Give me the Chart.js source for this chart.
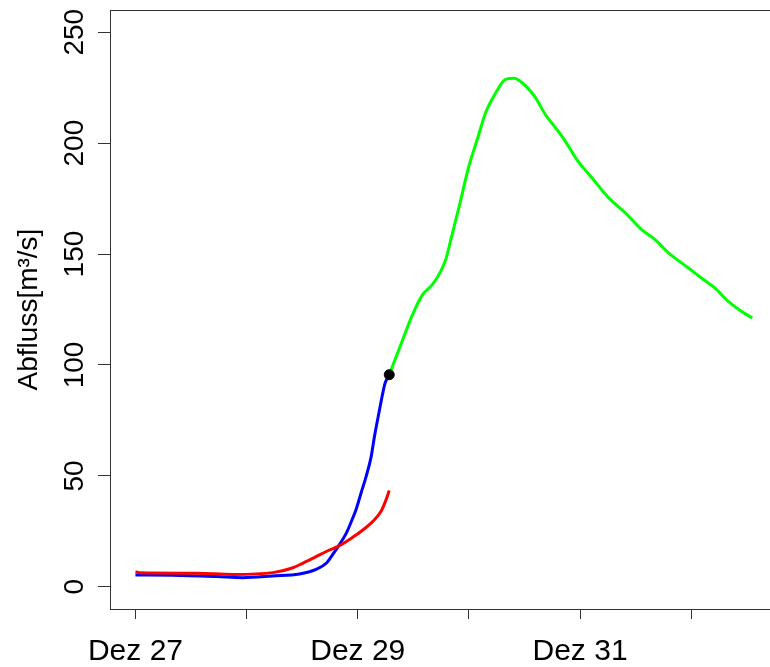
<!DOCTYPE html>
<html>
<head>
<meta charset="utf-8">
<script src="https://cdn.jsdelivr.net/npm/chart.js@4/dist/chart.umd.min.js"></script>
<style>
    html, body { margin: 0; padding: 0; background: #fff; overflow: hidden; }
    #wrap { width: 800px; height: 667px; }
</style>
</head>
<body>
<div id="wrap"><canvas id="flowChart"></canvas></div>
<script>
// --- DATA (hours since Dez 27 00:00, discharge in m³/s) ---
const xTickHours = [0, 24, 48, 72, 96, 120];
const xTickLabels = ['Dez 27', '', 'Dez 29', '', 'Dez 31', ''];
const yTicks = [0, 50, 100, 150, 200, 250];
const yTitle = 'Abfluss[m³/s]';

// observed (blue)
const blueHours = [0, 8, 17.5, 23.2, 29.6, 35.4, 39.0, 41.2, 42.5, 44.0, 45.5, 46.9, 47.6, 48.7, 49.8, 50.9, 51.6, 52.7, 53.4, 53.9, 54.8];
const blueFlow  = [5.3, 5.2, 4.6, 4.1, 4.9, 5.8, 7.9, 10.6, 14.3, 18.9, 24.1, 30.9, 34.6, 42.2, 49.7, 58.7, 67.7, 79.8, 87.3, 91.8, 95.6];

// simulated (red)
const redHours = [0, 1, 13.2, 21.1, 29.7, 34.0, 36.1, 39.0, 41.9, 44.0, 46.9, 49.1, 51.2, 53.0, 54.1, 54.8];
const redFlow  = [6.8, 6.3, 6.1, 5.6, 6.4, 8.6, 10.6, 13.6, 16.6, 18.5, 22.3, 25.6, 29.4, 33.9, 39.2, 43.4];

// forecast (green)
const greenHours = [54.8, 57.7, 59.8, 62.0, 64.1, 65.9, 67.0, 68.1, 69.9, 72.0, 73.8, 75.6, 77.8, 79.9, 81.7, 83.5, 86.4, 88.5, 90.7, 92.8, 95.3, 98.6, 102.2, 105.8, 109.3, 112.2, 115.1, 119.4, 122.2, 125.1, 128.0, 130.9, 133.2];
const greenFlow  = [95.6, 111.4, 122.6, 131.7, 136.2, 142.2, 147.5, 156.5, 171.5, 189.6, 201.6, 213.7, 222.7, 228.7, 229.2, 227.2, 220.4, 212.9, 206.9, 200.9, 192.6, 184.3, 175.3, 168.5, 161.0, 156.5, 150.5, 143.7, 139.2, 134.7, 128.7, 124.1, 121.2];

// forecast start point
const startHour = [54.8];
const startFlow = [95.6];

const FONT = "'Liberation Sans', Arial, sans-serif";

function toPoints(xs, ys) {
    return xs.map((x, i) => ({ x: x, y: ys[i] }));
}

function lineSet(xs, ys, color, order) {
    return {
        data: toPoints(xs, ys),
        borderColor: color,
        borderWidth: 3,
        pointRadius: 0,
        fill: false,
        cubicInterpolationMode: 'monotone',
        order: order
    };
}

// --- R-style frame, rotated y labels and y title ---
const framePlugin = {
    id: 'frame',
    afterDraw(chart) {
        const { ctx, chartArea } = chart;
        const yScale = chart.scales.y;
        ctx.save();
        ctx.strokeStyle = '#333';
        ctx.lineWidth = 1;
        ctx.strokeRect(Math.round(chartArea.left) + 0.5, Math.round(chartArea.top) + 0.5,
            Math.round(chartArea.right - chartArea.left), Math.round(chartArea.bottom - chartArea.top));

        ctx.fillStyle = '#000';
        ctx.font = '28px ' + FONT;
        ctx.textAlign = 'center';
        ctx.textBaseline = 'alphabetic';
        yTicks.forEach(v => {
            const py = yScale.getPixelForValue(v);
            ctx.save();
            ctx.translate(83, py);
            ctx.rotate(-Math.PI / 2);
            ctx.fillText(String(v), 0, 0);
            ctx.restore();
        });

        ctx.save();
        ctx.translate(37, (chartArea.top + chartArea.bottom) / 2);
        ctx.rotate(-Math.PI / 2);
        ctx.fillText(yTitle, 0, 0);
        ctx.restore();
        ctx.restore();
    }
};

const ctx = document.getElementById('flowChart').getContext('2d');
new Chart(ctx, {
    type: 'line',
    data: {
        datasets: [
            {
                type: 'scatter',
                data: toPoints(startHour, startFlow),
                backgroundColor: '#000',
                borderColor: '#000',
                pointRadius: 5,
                order: 0
            },
            lineSet(redHours, redFlow, '#ff0000', 1),
            lineSet(blueHours, blueFlow, '#0000ff', 2),
            lineSet(greenHours, greenFlow, '#00ff00', 3)
        ]
    },
    options: {
        responsive: true, maintainAspectRatio: false, animation: false,
        layout: { padding: { top: 10, right: 4, left: 0, bottom: 0 } },
        plugins: { legend: { display: false }, tooltip: { enabled: false } },
        scales: {
            x: {
                type: 'linear', min: -5.5, max: 142.2,
                afterBuildTicks: s => { s.ticks = xTickHours.map(v => ({ value: v })); },
                afterFit: s => { s.height = 58; },
                grid: { drawOnChartArea: false, drawTicks: true, tickLength: 10, color: '#333' },
                border: { display: false },
                ticks: {
                    autoSkip: false, maxRotation: 0, minRotation: 0, padding: 15,
                    color: '#000', font: { family: FONT, size: 30 },
                    callback: v => xTickLabels[xTickHours.indexOf(v)] ?? ''
                }
            },
            y: {
                min: -10, max: 260,
                afterBuildTicks: s => { s.ticks = yTicks.map(v => ({ value: v })); },
                afterFit: s => { s.width = 110; },
                grid: { drawOnChartArea: false, drawTicks: true, tickLength: 12, color: '#333' },
                border: { display: false },
                ticks: { display: false }
            }
        }
    },
    plugins: [framePlugin]
});
</script>
</body>
</html>
